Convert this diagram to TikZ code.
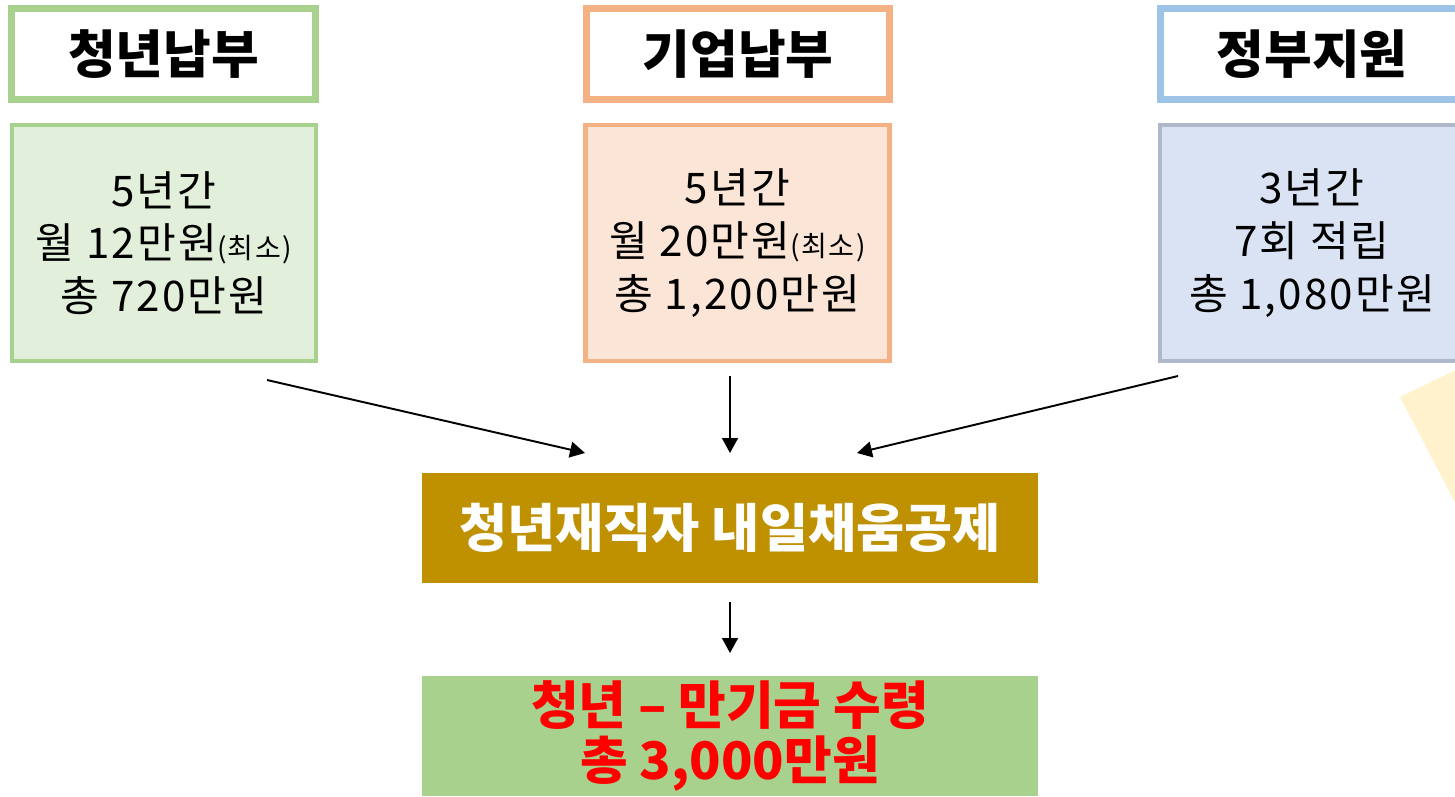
\documentclass[tikz,border=0pt]{standalone}
\usepackage{fontspec}
\setmainfont{Noto Sans CJK KR}
\newfontfamily\bodyfont[LetterSpace=5]{Noto Sans CJK KR}
\usetikzlibrary{arrows.meta}
\definecolor{gline}{HTML}{A9D18E}
\definecolor{gfill}{HTML}{E2EFDA}
\definecolor{oline}{HTML}{F4B183}
\definecolor{ofill}{HTML}{FBE5D6}
\definecolor{bline}{HTML}{9DC3E6}
\definecolor{bline2}{HTML}{ADB9CA}
\definecolor{bfill}{HTML}{DAE3F3}
\definecolor{brown}{HTML}{BF9000}
\definecolor{yel}{HTML}{FFF2CC}
\tikzset{
  header/.style={draw, line width=4pt, fill=white, minimum width=6.08cm, minimum height=1.82cm, inner sep=0pt,
    font=\fontsize{29.5pt}{32pt}\selectfont\bfseries},
  bodybox/.style={draw, line width=2.5pt, minimum width=6.08cm, minimum height=4.72cm, inner sep=0pt, align=center,
    font=\bodyfont\fontsize{24pt}{30pt}\selectfont},
  flowarrow/.style={line width=1.1pt, -{Triangle[length=8.5pt,width=9pt]}},
}
\newcommand{\smalltxt}[1]{{\fontsize{16pt}{18pt}\selectfont #1}}
\begin{document}
\begin{tikzpicture}[x=0.02cm,y=-0.02cm]
\useasboundingbox (0,0) rectangle (1455,796);
% partial yellow shape at right edge
\fill[yel] (1400,397) -- (1460,368) -- (1460,512) -- cycle;
% headers
\node[header, draw=gline] (h1) at (163.5,54) {청년납부};
\node[header, draw=oline] (h2) at (738,54) {기업납부};
\node[header, draw=bline] (h3) at (1312,54) {정부지원};
% body boxes
\node[bodybox, draw=gline, fill=gfill] (b1) at (164,243) {5년간\\월 12만원\smalltxt{(최소)}\\총 720만원};
\node[bodybox, draw=oline, fill=ofill] (b2) at (737.5,243) {5년간\\월 20만원\smalltxt{(최소)}\\총 1,200만원};
\node[bodybox, draw=bline2, fill=bfill] (b3) at (1312,243) {3년간\\7회 적립\\총 1,080만원};
% centre box
\node[fill=brown, minimum width=12.32cm, minimum height=2.2cm, inner sep=0pt, text=white,
  font=\fontsize{29.8pt}{32pt}\selectfont\bfseries] (mid) at (730,528) {청년재직자 내일채움공제};
% result box
\node[fill=gline, minimum width=12.32cm, minimum height=2.4cm, inner sep=0pt, text=red, align=center,
  font=\fontsize{29.5pt}{31pt}\selectfont\bfseries] (res) at (730,736) {청년 – 만기금 수령\\총 3,000만원};
% arrow end points
\coordinate (a1s) at (267,380);
\coordinate (a1e) at (585,453);
\coordinate (a2s) at (730,376);
\coordinate (a2e) at (730,453);
\coordinate (a3s) at (1178,376);
\coordinate (a3e) at (857,453);
\coordinate (a4s) at (730,602);
\coordinate (a4e) at (730,653);
\draw[flowarrow] (a1s) -- (a1e);
\draw[flowarrow] (a2s) -- (a2e);
\draw[flowarrow] (a3s) -- (a3e);
\draw[flowarrow] (a4s) -- (a4e);
\end{tikzpicture}
\end{document}
